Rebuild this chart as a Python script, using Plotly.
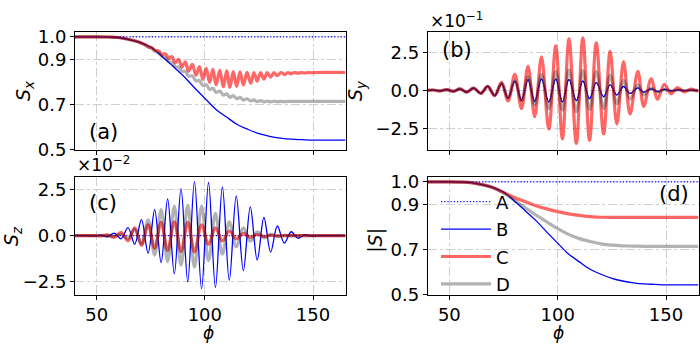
import plotly.graph_objects as go

# ---------------- data ----------------
# smooth curves, panel (a) blue and panel (d)
phi_s = [40, 50, 55, 60, 65, 70, 75, 80, 85, 90, 95, 100, 105, 110, 115, 120,
         125, 130, 135, 140, 145, 150, 155, 165]
sx_B = [1.0, 1.0, 0.999, 0.997, 0.988, 0.975, 0.955, 0.915, 0.872, 0.828, 0.777,
        0.728, 0.680, 0.645, 0.612, 0.590, 0.572, 0.560, 0.552, 0.547, 0.545,
        0.543, 0.543, 0.543]
sabs_B = [1.0, 1.0, 0.999, 0.997, 0.988, 0.975, 0.955, 0.915, 0.872, 0.828, 0.777,
          0.728, 0.680, 0.645, 0.612, 0.590, 0.572, 0.560, 0.552, 0.547, 0.545,
          0.543, 0.543, 0.543]
sabs_C = [1.0, 1.0, 0.999, 0.997, 0.988, 0.975, 0.953, 0.931, 0.912, 0.894, 0.880,
          0.868, 0.858, 0.851, 0.846, 0.843, 0.842, 0.842, 0.842, 0.842, 0.842,
          0.842, 0.842, 0.842]
sabs_D = [1.0, 1.0, 0.999, 0.997, 0.988, 0.975, 0.951, 0.918, 0.885, 0.853, 0.822,
          0.792, 0.767, 0.748, 0.735, 0.725, 0.719, 0.716, 0.715, 0.714, 0.714,
          0.714, 0.714, 0.714]
phi_flat = [40, 165]
sx_A = [1.0, 1.0]
sabs_A = [1.0, 1.0]
sz_A = [0.0, 0.0]

# panel (a): S_x of C and D, extrema of the wiggles
phi_sx = [40, 50, 55, 60, 65, 70, 72.5, 74.1, 75.6, 77.1, 78.65, 80.2, 81.75, 83.3,
          84.8, 86.3, 87.85, 89.4, 90.95, 92.5, 94.2, 95.9, 97.5, 99.1, 100.65,
          102.2, 103.7, 105.2, 106.9, 108.6, 110.1, 111.6, 113.15, 114.7, 116.25,
          117.8, 119.5, 121.2, 122.7, 124.2, 125.75, 127.3, 128.85, 130.4, 131.9,
          133.4, 135.2, 137.0, 138.35, 139.7, 141.4, 143.1, 144.6, 146.1, 147.65,
          149.2, 152, 165]
sx_C = [1.0, 1.0, 0.999, 0.997, 0.988, 0.975,
        0.964, 0.955, 0.951, 0.940, 0.938, 0.922, 0.925, 0.905, 0.912, 0.885,
        0.900, 0.866, 0.889, 0.848, 0.878, 0.830, 0.868, 0.812, 0.861, 0.798,
        0.856, 0.787, 0.852, 0.779, 0.849, 0.777, 0.846, 0.781, 0.845, 0.787,
        0.843, 0.795, 0.842, 0.804, 0.842, 0.813, 0.842, 0.821, 0.842, 0.828,
        0.842, 0.833, 0.842, 0.836, 0.842, 0.839, 0.842, 0.840, 0.842, 0.841,
        0.842, 0.842]
sx_D = [1.0, 1.0, 0.999, 0.997, 0.988, 0.975,
        0.963, 0.954, 0.948, 0.935, 0.928, 0.913, 0.907, 0.890, 0.886, 0.868,
        0.866, 0.848, 0.847, 0.826, 0.827, 0.805, 0.807, 0.785, 0.788, 0.767,
        0.772, 0.754, 0.760, 0.742, 0.748, 0.732, 0.740, 0.726, 0.732, 0.720,
        0.726, 0.716, 0.721, 0.713, 0.718, 0.712, 0.716, 0.712, 0.715, 0.713,
        0.714, 0.713, 0.714, 0.714, 0.714, 0.714, 0.714, 0.714, 0.714, 0.714,
        0.714, 0.714]

# panel (b): S_y (x 10^-1), extrema of the oscillation
phi_b = [40, 42.6, 45.7, 48.8, 51.9, 54.9, 58.0, 61.2, 64.5, 67.7, 70.9, 74.1,
         77.1, 80.2, 83.3, 86.3, 89.4, 92.5, 95.9, 99.1, 102.2, 105.2, 108.6,
         111.6, 114.7, 117.8, 121.2, 124.2, 127.3, 130.4, 133.4, 137.0, 139.7,
         143.1, 146.1, 149.2, 152.3, 155.3, 158.4, 161.5, 164.5, 165]
sy_A = [0, 0.02, -0.04, 0.05, -0.07, 0.09, -0.12, 0.15, -0.2, 0.26,
        -0.33, 0.42, -0.5, 0.6, -0.65, 0.7, -0.72, 0.75, -0.75, 0.75,
        -0.75, 0.72, -0.68, 0.62, -0.55, 0.5, -0.42, 0.36, -0.3, 0.25,
        -0.2, 0.16, -0.12, 0.1, -0.08, 0.06, -0.04, 0.03, -0.02, 0.01, 0, 0]
sy_B = [0, 0.02, -0.04, 0.05, -0.07, 0.09, -0.12, 0.15, -0.2, 0.26,
        -0.33, 0.42, -0.5, 0.6, -0.65, 0.7, -0.72, 0.75, -0.75, 0.75,
        -0.75, 0.72, -0.68, 0.62, -0.55, 0.5, -0.42, 0.36, -0.3, 0.25,
        -0.2, 0.16, -0.12, 0.1, -0.08, 0.06, -0.04, 0.03, -0.02, 0.01, 0, 0]
sy_C = [0, 0.02, -0.04, 0.05, -0.07, 0.09, -0.12, 0.15, -0.2, 0.26,
        -0.36, 0.52, -0.7, 1.05, -1.2, 1.58, -1.72, 2.2, -2.55, 2.92,
        -3.18, 3.38, -3.48, 3.44, -3.28, 3.12, -2.86, 2.55, -2.22, 1.88,
        -1.55, 1.25, -1.05, 0.75, -0.58, 0.4, -0.22, 0.18, -0.1, 0.08, -0.04, 0]
sy_D = [0, 0.02, -0.04, 0.05, -0.07, 0.09, -0.12, 0.15, -0.2, 0.26,
        -0.34, 0.45, -0.52, 0.62, -0.68, 0.9, -0.95, 1.05, -1.2, 1.25,
        -1.3, 1.35, -1.4, 1.3, -1.28, 1.24, -1.2, 1.0, -0.88, 0.65,
        -0.58, 0.36, -0.3, 0.15, -0.12, 0.05, -0.04, 0.02, -0.01, 0, 0, 0]

# panel (c): S_z (x 10^-2), extrema of the oscillation
phi_c = [40, 45, 49.0, 52.0, 55.0, 58.1, 61.3, 64.5, 67.6, 70.7, 73.8, 76.8, 79.8,
         82.8, 85.9, 89.0, 92.1, 95.2, 98.5, 101.7, 104.9, 108.1, 111.3, 114.5,
         117.8, 121.0, 124.2, 127.3, 130.4, 133.5, 136.7, 139.9, 143.0, 146.2,
         149.3, 153, 158, 165]
sz_B = [0, 0, -0.01, 0.02, -0.06, 0.14, -0.17, 0.43, -0.46, 0.86,
        -0.95, 1.41, -1.46, 1.98, -2.06, 2.54, -2.49, 2.92, -2.87, 2.87,
        -2.80, 2.63, -2.41, 2.15, -1.89, 1.55, -1.32, 0.98, -0.89, 0.52,
        -0.40, 0.21, -0.14, 0.05, -0.02, 0, 0, 0]
sz_C = [0, 0, 0.0, -0.01, 0.04, -0.10, 0.18, -0.28, 0.42, -0.52,
        0.58, -0.68, 0.72, -0.80, 0.74, -0.86, 0.72, -0.88, 0.58, -0.47,
        0.42, -0.28, 0.25, -0.17, 0.12, -0.09, 0.06, -0.04, 0.02, -0.01,
        0, 0, 0, 0, 0, 0, 0, 0]
sz_D = [0, 0, 0, 0, 0, -0.02, 0.06, -0.15, 0.35, -0.45,
        0.85, -1.05, 1.4, -1.4, 1.6, -1.6, 1.65, -1.7, 1.6, -1.35,
        1.2, -1.0, 0.75, -0.6, 0.42, -0.3, 0.2, -0.12, 0.07, -0.04,
        0.02, 0, 0, 0, 0, 0, 0, 0]

x_ticks = [50, 100, 150]
x_ticktext = ["50", "100", "150"]
s_ticks = [0.5, 0.7, 0.9, 1.0]
s_ticktext = ["0.5", "0.7", "0.9", "1.0"]
o_ticks = [-2.5, 0.0, 2.5]
o_ticktext = ["\u22122.5", "0.0", "2.5"]
names = ["A", "B", "C", "D"]

# ---------------- styling ----------------
W, H = 700, 351
FONT = "DejaVu Sans"
styles = {
    "A": dict(color="#0000ff", width=1.2, dash="1.2px,2px"),
    "B": dict(color="#0000ff", width=1.3),
    "C": dict(color="rgba(255,0,0,0.6)", width=3.2),
    "D": dict(color="rgba(0,0,0,0.3)", width=3.2),
}


def px(p):
    return p / W


def py(p):
    return 1 - p / H


fig = go.Figure()

panels = [
    ("x", "y", [(phi_flat, sx_A), (phi_s, sx_B), (phi_sx, sx_C), (phi_sx, sx_D)], False),
    ("x2", "y2", [(phi_b, sy_A), (phi_b, sy_B), (phi_b, sy_C), (phi_b, sy_D)], False),
    ("x3", "y3", [(phi_flat, sz_A), (phi_c, sz_B), (phi_c, sz_C), (phi_c, sz_D)], False),
    ("x4", "y4", [(phi_flat, sabs_A), (phi_s, sabs_B), (phi_s, sabs_C), (phi_s, sabs_D)], True),
]

for xa, ya, series, show in panels:
    for name, (xs, ys) in zip(names, series):
        fig.add_trace(go.Scatter(
            x=xs, y=ys, mode="lines", name=name, xaxis=xa, yaxis=ya,
            line=dict(shape="spline", smoothing=1.0, **styles[name]),
            showlegend=show, legendgroup=name, hoverinfo="skip"))

axis_common = dict(
    showline=True, linecolor="black", linewidth=1, mirror=True,
    ticks="outside", ticklen=4, tickwidth=1, tickcolor="black",
    showgrid=True, gridcolor="#cfcfcf", griddash="dashdot", gridwidth=0.8,
    zeroline=False, tickfont=dict(family=FONT, size=18, color="black"),
    fixedrange=True,
)

xl = [px(75), px(345.5)]
xr = [px(427.7), px(698.5)]
yt = [py(150.7), py(27.3)]
yb = [py(302.3), py(179.3)]

fig.update_layout(
    width=W, height=H, margin=dict(l=0, r=0, t=0, b=0),
    paper_bgcolor="white", plot_bgcolor="white",
    font=dict(family=FONT, color="black"),
    xaxis=dict(domain=xl, anchor="y", range=[40, 165], tickvals=x_ticks,
               ticktext=x_ticktext, showticklabels=False, **axis_common),
    yaxis=dict(domain=yt, anchor="x", range=[0.5, 1.021], tickvals=s_ticks,
               ticktext=s_ticktext, **axis_common),
    xaxis2=dict(domain=xr, anchor="y2", range=[40, 165], tickvals=x_ticks,
                ticktext=x_ticktext, showticklabels=False, **axis_common),
    yaxis2=dict(domain=yt, anchor="x2", range=[-3.9, 3.82], tickvals=o_ticks,
                ticktext=o_ticktext, **axis_common),
    xaxis3=dict(domain=xl, anchor="y3", range=[40, 165], tickvals=x_ticks,
                ticktext=x_ticktext, **axis_common),
    yaxis3=dict(domain=yb, anchor="x3", range=[-3.18, 3.16], tickvals=o_ticks,
                ticktext=o_ticktext, **axis_common),
    xaxis4=dict(domain=xr, anchor="y4", range=[40, 165], tickvals=x_ticks,
                ticktext=x_ticktext, **axis_common),
    yaxis4=dict(domain=yb, anchor="x4", range=[0.5, 1.021], tickvals=s_ticks,
                ticktext=s_ticktext, **axis_common),
    legend=dict(x=px(436), y=py(186), xanchor="left", yanchor="top",
                bgcolor="rgba(0,0,0,0)", borderwidth=0,
                font=dict(family=FONT, size=18, color="black"),
                tracegroupgap=1, itemwidth=50),
    showlegend=True,
)


def ann(text, x, y, size, xanchor="center", angle=0):
    fig.add_annotation(text=text, x=px(x), y=py(y), xref="paper", yref="paper",
                       xanchor=xanchor, yanchor="middle", showarrow=False,
                       textangle=angle,
                       font=dict(family=FONT, size=size, color="black"))


# panel labels
ann("(a)", 87, 132, 21, "left")
ann("(b)", 440, 46, 21, "left")
ann("(c)", 87, 206, 21, "left")
ann("(d)", 657, 197, 21, "left")
# axis titles
ann("<i>S</i><sub><i>x</i></sub>", 25, 89, 19, angle=-90)
ann("<i>S</i><sub><i>y</i></sub>", 357, 89, 19, angle=-90)
ann("<i>S</i><sub><i>z</i></sub>", 12, 241, 19, angle=-90)
ann("|<i>S</i>|", 376, 246, 19, angle=-90)
ann("<i>\u03d5</i>", 208, 342.5, 17)
ann("<i>\u03d5</i>", 558, 342.5, 17)
# offset multipliers
ann("\u00d710<sup>\u22121</sup>", 428, 15, 17, "left")
ann("\u00d710<sup>\u22122</sup>", 75, 166, 17, "left")

fig.write_html("out.html", config={"displayModeBar": False})
